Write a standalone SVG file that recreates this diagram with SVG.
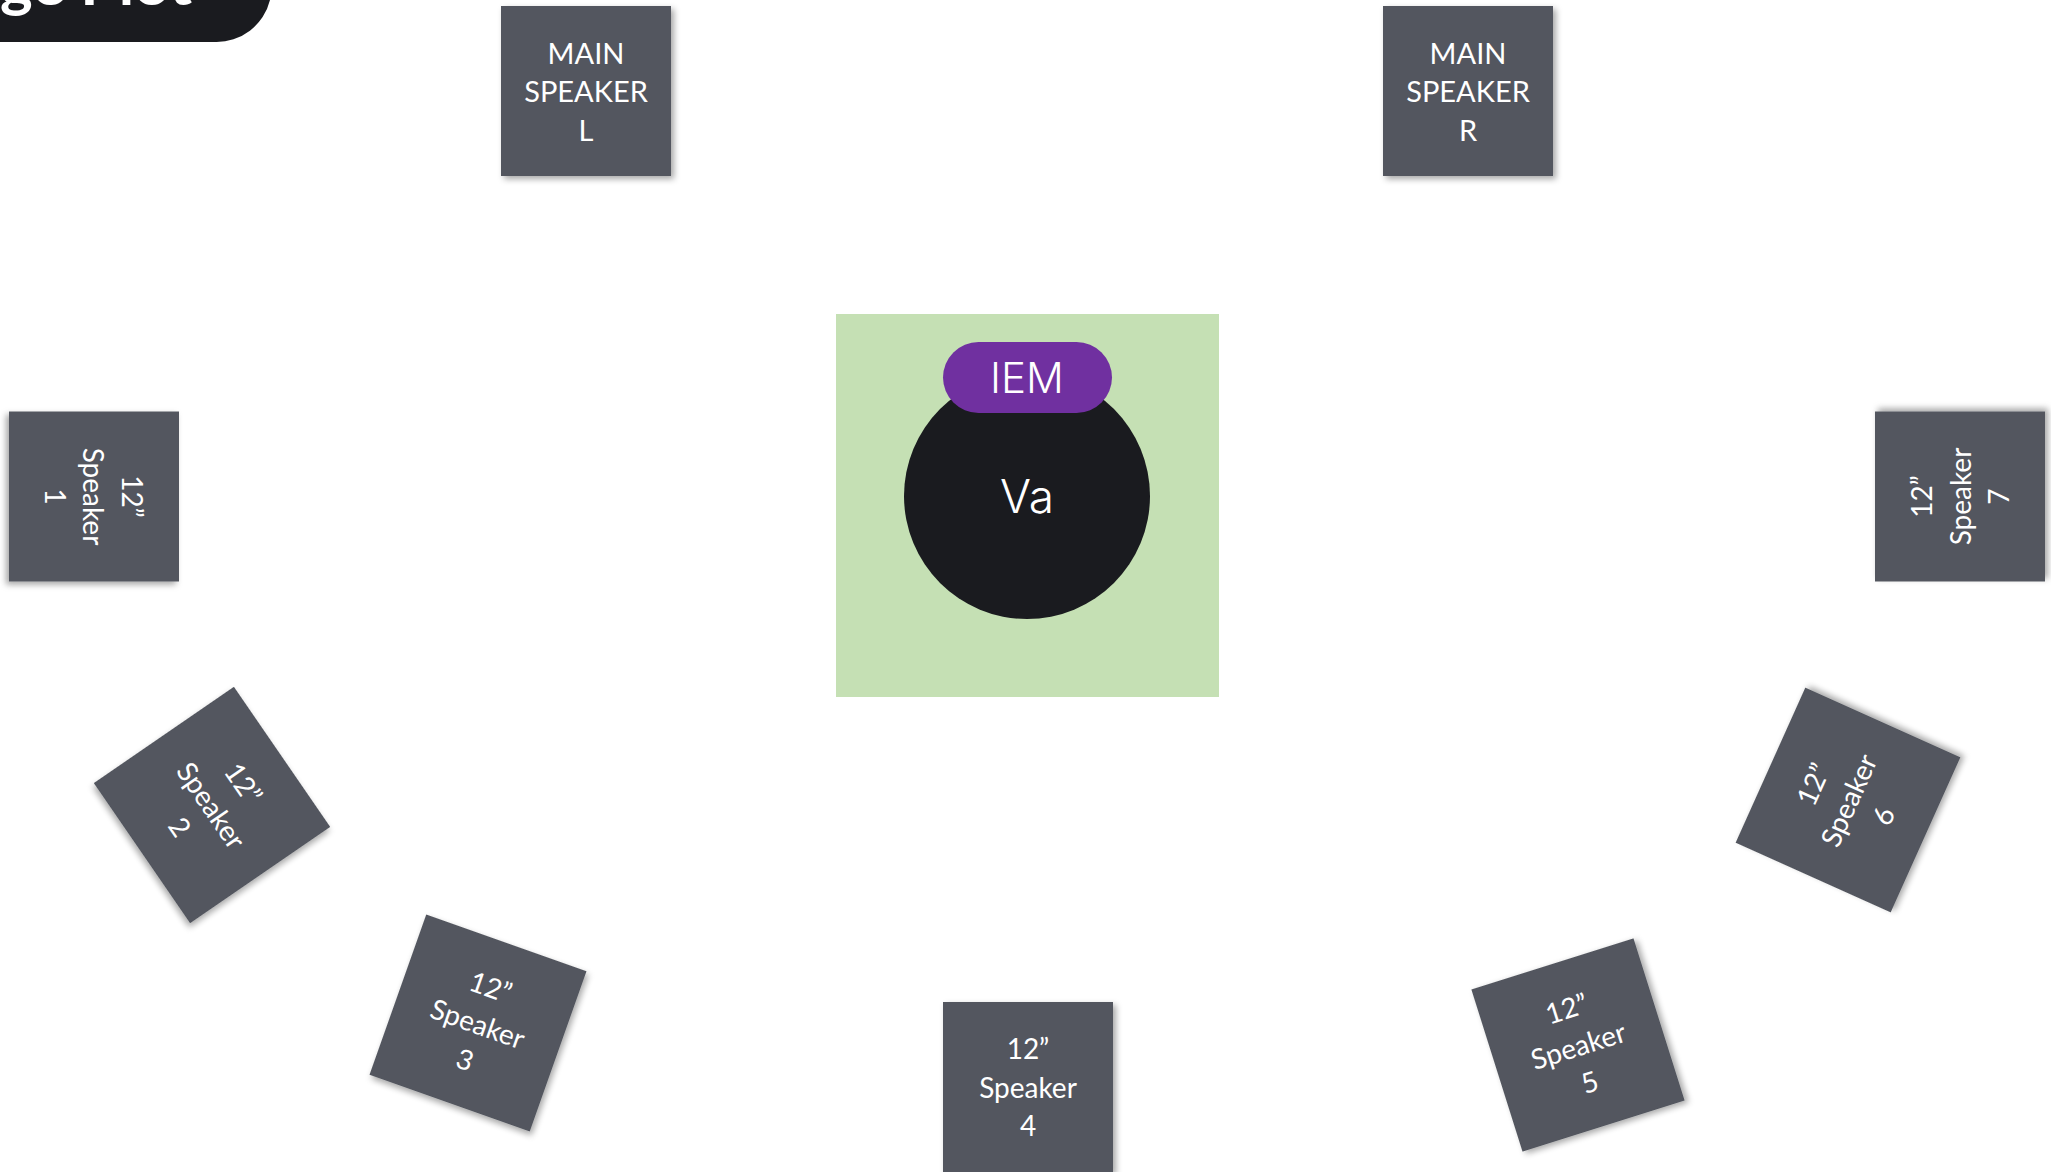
<svg xmlns="http://www.w3.org/2000/svg" width="2051" height="1172" viewBox="0 0 2051 1172">
  <defs>
    <filter id="shadow" x="-20%" y="-20%" width="140%" height="140%">
      <feDropShadow dx="3" dy="3" stdDeviation="3" flood-color="#000" flood-opacity="0.35"/>
    </filter>
    <rect id="box" x="-85" y="-85" width="170" height="170"/>
  </defs>
  <style>
    .box { fill: #53575E; filter: url(#shadow); }
    .lbl { font-family: Lato, "Open Sans", "Liberation Sans", sans-serif; font-size: 28px; fill: #FFFFFF; text-anchor: middle; }
    .main { font-family: Lato, "Open Sans", "Liberation Sans", sans-serif; font-size: 29px; fill: #FFFFFF; text-anchor: middle; }
    .thin { font-family: Inter, "Liberation Sans", sans-serif; font-weight: 300; fill: #FFFFFF; text-anchor: middle; }
  </style>
  <rect width="2051" height="1172" fill="#FFFFFF"/>

  <g id="title">
    <path d="M0,0 H270 V0 A55,55 0 0 1 215,42 H0 Z" fill="#1A1B1F"/>
    <text x="0" y="5" font-family="Lato, 'Open Sans', 'Liberation Sans', sans-serif" font-weight="bold" font-size="62" fill="#FFFFFF">ge Plot</text>
  </g>

  <g id="connectors"/>

  <g id="stage-area">
    <rect x="836" y="314" width="383" height="383" fill="#C5E0B4"/>
  </g>

  <g id="performer-va">
    <circle cx="1027" cy="496" r="123" fill="#1A1B1F"/>
    <text class="thin" x="1027" y="513" font-size="46">Va</text>
  </g>

  <g id="iem">
    <rect x="943" y="342" width="169" height="71" rx="35.5" fill="#7030A0"/>
    <text class="thin" x="1027" y="393" font-size="42">IEM</text>
  </g>

  <g id="main-speaker-l" transform="translate(586,91)">
    <use href="#box" class="box"/>
    <text class="main" y="-27">MAIN</text>
    <text class="main" y="11">SPEAKER</text>
    <text class="main" y="50">L</text>
  </g>

  <g id="main-speaker-r" transform="translate(1468,91)">
    <use href="#box" class="box"/>
    <text class="main" y="-27">MAIN</text>
    <text class="main" y="11">SPEAKER</text>
    <text class="main" y="50">R</text>
  </g>

  <g id="speaker-1" transform="translate(94,496.5) rotate(90)">
    <use href="#box" class="box"/>
    <text class="lbl" y="-28">12”</text>
    <text class="lbl" y="11">Speaker</text>
    <text class="lbl" y="49">1</text>
  </g>

  <g id="speaker-2" transform="translate(212,805) rotate(55.5)">
    <use href="#box" class="box"/>
    <text class="lbl" y="-28">12”</text>
    <text class="lbl" y="11">Speaker</text>
    <text class="lbl" y="49">2</text>
  </g>

  <g id="speaker-3" transform="translate(478,1023) rotate(19.5)">
    <use href="#box" class="box"/>
    <text class="lbl" y="-28">12”</text>
    <text class="lbl" y="11">Speaker</text>
    <text class="lbl" y="49">3</text>
  </g>

  <g id="speaker-4" transform="translate(1028,1087)">
    <use href="#box" class="box"/>
    <text class="lbl" y="-28">12”</text>
    <text class="lbl" y="11">Speaker</text>
    <text class="lbl" y="49">4</text>
  </g>

  <g id="speaker-5" transform="translate(1578,1045) rotate(-17.5)">
    <use href="#box" class="box"/>
    <text class="lbl" y="-28">12”</text>
    <text class="lbl" y="11">Speaker</text>
    <text class="lbl" y="49">5</text>
  </g>

  <g id="speaker-6" transform="translate(1848,800) rotate(-65.8)">
    <use href="#box" class="box"/>
    <text class="lbl" y="-28">12”</text>
    <text class="lbl" y="11">Speaker</text>
    <text class="lbl" y="49">6</text>
  </g>

  <g id="speaker-7" transform="translate(1960,496.5) rotate(-90)">
    <use href="#box" class="box"/>
    <text class="lbl" y="-28">12”</text>
    <text class="lbl" y="11">Speaker</text>
    <text class="lbl" y="49">7</text>
  </g>
</svg>
